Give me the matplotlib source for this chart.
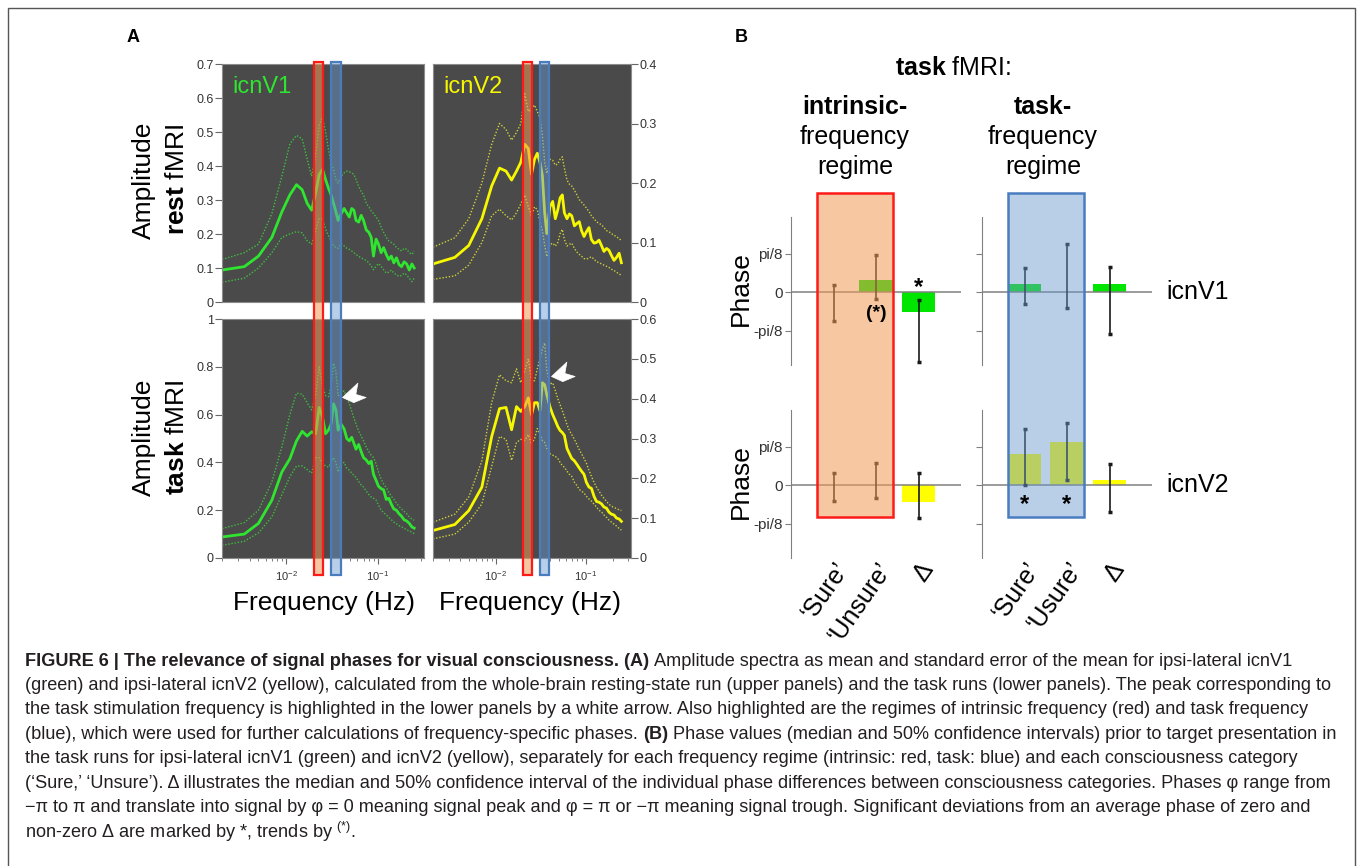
import numpy as np
import matplotlib
matplotlib.use('Agg')
import matplotlib.pyplot as plt
from matplotlib import transforms, colors
from matplotlib.patches import Rectangle
from matplotlib.path import Path
from matplotlib.ticker import FuncFormatter

plt.rcParams['font.family'] = ['Liberation Sans', 'DejaVu Sans']
plt.rcParams['mathtext.fontset'] = 'custom'
plt.rcParams['mathtext.rm'] = 'Liberation Sans'
plt.rcParams['mathtext.bf'] = 'Liberation Sans:bold'
plt.rcParams['mathtext.it'] = 'Liberation Sans:italic'

W, H = 1358, 866

# ---- panel A: amplitude spectra (mean, mean+SE, mean-SE) ----
freq = [0.002, 0.0035, 0.005, 0.007, 0.009, 0.011, 0.013, 0.015, 0.017, 0.019,
        0.021, 0.023, 0.025, 0.027, 0.029, 0.031, 0.033, 0.035, 0.037, 0.040,
        0.043, 0.046, 0.049, 0.052, 0.055, 0.058, 0.062, 0.066, 0.070, 0.075,
        0.080, 0.085, 0.090, 0.096, 0.102, 0.109, 0.116, 0.124, 0.132, 0.141,
        0.150, 0.160, 0.171, 0.182, 0.194, 0.207, 0.221, 0.236, 0.250]

rest_v1_mean = [0.094, 0.104, 0.135, 0.19, 0.265, 0.315, 0.345, 0.33, 0.29, 0.27,
                0.32, 0.375, 0.39, 0.36, 0.335, 0.315, 0.29, 0.265, 0.24, 0.26,
                0.275, 0.262, 0.25, 0.275, 0.27, 0.24, 0.235, 0.255, 0.24, 0.212,
                0.205, 0.19, 0.135, 0.185, 0.17, 0.145, 0.16, 0.14, 0.125, 0.135,
                0.115, 0.13, 0.11, 0.104, 0.118, 0.112, 0.094, 0.112, 0.1]
rest_v1_hi = [0.125, 0.145, 0.17, 0.26, 0.37, 0.465, 0.49, 0.48, 0.42, 0.37,
              0.43, 0.52, 0.545, 0.50, 0.45, 0.41, 0.39, 0.36, 0.35, 0.37,
              0.38, 0.385, 0.383, 0.38, 0.375, 0.36, 0.34, 0.325, 0.315, 0.29,
              0.28, 0.268, 0.26, 0.25, 0.24, 0.22, 0.205, 0.19, 0.18, 0.175,
              0.17, 0.16, 0.155, 0.15, 0.158, 0.155, 0.145, 0.14, 0.15]
rest_v1_lo = [0.058, 0.07, 0.1, 0.145, 0.19, 0.2, 0.207, 0.203, 0.18, 0.17,
              0.21, 0.245, 0.245, 0.215, 0.195, 0.18, 0.165, 0.16, 0.158, 0.172,
              0.165, 0.158, 0.155, 0.15, 0.145, 0.14, 0.134, 0.13, 0.126, 0.122,
              0.115, 0.106, 0.095, 0.105, 0.113, 0.105, 0.095, 0.085, 0.088, 0.094,
              0.085, 0.08, 0.075, 0.078, 0.085, 0.08, 0.07, 0.06, 0.07]

rest_v2_mean = [0.064, 0.075, 0.095, 0.14, 0.195, 0.225, 0.22, 0.205, 0.22, 0.235,
                0.265, 0.258, 0.215, 0.24, 0.25, 0.235, 0.212, 0.15, 0.115, 0.16,
                0.169, 0.14, 0.155, 0.175, 0.18, 0.15, 0.14, 0.148, 0.145, 0.128,
                0.132, 0.135, 0.12, 0.11, 0.118, 0.125, 0.105, 0.099, 0.1, 0.104,
                0.095, 0.085, 0.09, 0.087, 0.078, 0.07, 0.075, 0.082, 0.066]
rest_v2_hi = [0.092, 0.108, 0.14, 0.2, 0.265, 0.30, 0.29, 0.272, 0.285, 0.30,
              0.35, 0.32, 0.325, 0.331, 0.32, 0.31, 0.28, 0.235, 0.216, 0.24,
              0.238, 0.23, 0.232, 0.24, 0.244, 0.225, 0.205, 0.198, 0.195, 0.188,
              0.18, 0.172, 0.168, 0.163, 0.158, 0.152, 0.145, 0.14, 0.135, 0.132,
              0.13, 0.125, 0.12, 0.118, 0.115, 0.112, 0.11, 0.106, 0.104]
rest_v2_lo = [0.038, 0.044, 0.062, 0.1, 0.145, 0.156, 0.145, 0.138, 0.15, 0.165,
              0.18, 0.16, 0.145, 0.16, 0.155, 0.135, 0.12, 0.095, 0.076, 0.096,
              0.099, 0.094, 0.1, 0.115, 0.122, 0.105, 0.094, 0.097, 0.099, 0.09,
              0.084, 0.08, 0.077, 0.073, 0.072, 0.074, 0.076, 0.072, 0.068, 0.066,
              0.064, 0.062, 0.06, 0.058, 0.055, 0.053, 0.05, 0.047, 0.045]

task_v1_mean = [0.088, 0.1, 0.145, 0.242, 0.36, 0.415, 0.49, 0.53, 0.51, 0.528,
                0.52, 0.63, 0.59, 0.52, 0.535, 0.56, 0.645, 0.62, 0.535, 0.56,
                0.54, 0.5, 0.49, 0.505, 0.48, 0.455, 0.475, 0.445, 0.42, 0.41,
                0.395, 0.405, 0.35, 0.325, 0.3, 0.29, 0.285, 0.245, 0.25, 0.225,
                0.205, 0.2, 0.185, 0.175, 0.16, 0.155, 0.145, 0.13, 0.125]
task_v1_hi = [0.123, 0.148, 0.2, 0.318, 0.465, 0.6, 0.69, 0.685, 0.65, 0.62,
              0.68, 0.80, 0.72, 0.68, 0.675, 0.72, 0.815, 0.78, 0.68, 0.69,
              0.7, 0.67, 0.645, 0.615, 0.585, 0.56, 0.53, 0.51, 0.49, 0.465,
              0.445, 0.43, 0.42, 0.395, 0.36, 0.33, 0.31, 0.295, 0.275, 0.258,
              0.245, 0.23, 0.215, 0.205, 0.195, 0.185, 0.172, 0.163, 0.158]
task_v1_lo = [0.053, 0.07, 0.105, 0.172, 0.265, 0.34, 0.385, 0.385, 0.37, 0.355,
              0.42, 0.42, 0.395, 0.385, 0.38, 0.4, 0.42, 0.4, 0.36, 0.395,
              0.4, 0.375, 0.367, 0.355, 0.345, 0.338, 0.32, 0.305, 0.297, 0.28,
              0.265, 0.255, 0.25, 0.242, 0.222, 0.2, 0.19, 0.18, 0.17, 0.16,
              0.15, 0.143, 0.135, 0.13, 0.125, 0.118, 0.113, 0.108, 0.102]

task_v2_mean = [0.069, 0.084, 0.119, 0.178, 0.305, 0.375, 0.378, 0.322, 0.38, 0.368,
                0.38, 0.402, 0.36, 0.39, 0.39, 0.37, 0.44, 0.435, 0.41, 0.38,
                0.36, 0.345, 0.33, 0.32, 0.315, 0.308, 0.275, 0.262, 0.25, 0.244,
                0.235, 0.226, 0.218, 0.21, 0.19, 0.178, 0.175, 0.155, 0.142, 0.14,
                0.136, 0.128, 0.125, 0.115, 0.11, 0.108, 0.1, 0.098, 0.092]
task_v2_hi = [0.09, 0.11, 0.153, 0.244, 0.39, 0.46, 0.445, 0.44, 0.475, 0.44,
              0.47, 0.5, 0.445, 0.445, 0.475, 0.5, 0.525, 0.54, 0.47, 0.436,
              0.44, 0.42, 0.4, 0.385, 0.37, 0.355, 0.335, 0.32, 0.31, 0.298,
              0.285, 0.272, 0.262, 0.25, 0.238, 0.22, 0.205, 0.19, 0.178, 0.168,
              0.158, 0.15, 0.142, 0.135, 0.13, 0.127, 0.124, 0.121, 0.119]
task_v2_lo = [0.048, 0.06, 0.09, 0.136, 0.23, 0.305, 0.298, 0.245, 0.29, 0.298,
              0.295, 0.31, 0.285, 0.3, 0.325, 0.31, 0.295, 0.29, 0.275, 0.262,
              0.258, 0.255, 0.25, 0.24, 0.232, 0.228, 0.218, 0.21, 0.205, 0.19,
              0.182, 0.172, 0.168, 0.163, 0.155, 0.148, 0.143, 0.135, 0.128, 0.12,
              0.116, 0.108, 0.102, 0.095, 0.09, 0.085, 0.08, 0.074, 0.07]

# frequency regimes (Hz)
intr_band = (0.0203, 0.0255)
task_band = (0.0312, 0.0395)
# task stimulation peak marked by the white arrow (freq, amplitude)
stim_arrow_v1 = (0.0406, 0.673)
stim_arrow_v2 = (0.0412, 0.457)

# ---- panel B: phases in units of pi/8 (median, 50% CI) ----
cond_intr = ['\u2018Sure\u2019', '\u2018Unsure\u2019', '\u0394']
cond_task = ['\u2018Sure\u2019', '\u2018Usure\u2019', '\u0394']

v1_intr_med = [0.0, 0.31, -0.50]
v1_intr_lo = [-0.74, -0.16, -1.79]
v1_intr_hi = [0.18, 0.97, -0.20]
v1_task_med = [0.22, 0.0, 0.22]
v1_task_lo = [-0.30, -0.41, -1.07]
v1_task_hi = [0.62, 1.26, 0.66]
v2_intr_med = [0.0, 0.0, -0.43]
v2_intr_lo = [-0.40, -0.32, -0.85]
v2_intr_hi = [0.33, 0.58, 0.33]
v2_task_med = [0.82, 1.11, 0.13]
v2_task_lo = [0.0, 0.14, -0.68]
v2_task_hi = [1.45, 1.61, 0.56]

green = '#2fe52f'
green_dim = '#3fbf3f'
yellow = '#f7f700'
yellow_dim = '#cfcf3a'
orange_fill = colors.to_rgba('#f09a55', 0.55)
blue_fill = colors.to_rgba('#6a9ad0', 0.47)

fig = plt.figure(figsize=(W / 100, H / 100), dpi=100)


def rect(x0, y0, x1, y1):
    # pixel box measured from the top-left corner -> figure fraction
    return [x0 / W, 1 - y1 / H, (x1 - x0) / W, (y1 - y0) / H]


def fy(y):
    return 1 - y / H


def fx(x):
    return x / W


# outer frame
fig.add_artist(Rectangle((fx(8), -0.01), fx(1355) - fx(8), fy(8) + 0.01,
                         transform=fig.transFigure, fill=False,
                         edgecolor='#555555', lw=1))

# ---------------- panel A ----------------
panels = [
    (rect(222, 64, 424, 302), rest_v1_mean, rest_v1_hi, rest_v1_lo, green, green_dim, 0.7, 0.1, 'left', 'icnV1', None),
    (rect(433, 64, 631, 302), rest_v2_mean, rest_v2_hi, rest_v2_lo, yellow, yellow_dim, 0.4, 0.1, 'right', 'icnV2', None),
    (rect(222, 319, 424, 558), task_v1_mean, task_v1_hi, task_v1_lo, green, green_dim, 1.0, 0.2, 'left', None, stim_arrow_v1),
    (rect(433, 319, 631, 558), task_v2_mean, task_v2_hi, task_v2_lo, yellow, yellow_dim, 0.6, 0.1, 'right', None, stim_arrow_v2),
]

# white chevron marker, tip at the origin
chevron = Path([(0, 0), (15, 14), (13, 3), (23, 0), (11, -5), (0, 0)],
               [Path.MOVETO, Path.LINETO, Path.LINETO, Path.LINETO, Path.LINETO, Path.CLOSEPOLY])

axA = []
for box, m, hi, lo, c, cd, ymax, step, side, name, arrow in panels:
    ax = fig.add_axes(box)
    ax.set_facecolor('#4a4a4a')
    ax.set_xscale('log')
    ax.plot(freq, hi, color=cd, lw=1.0, ls=(0, (1, 1.3)))
    ax.plot(freq, lo, color=cd, lw=1.0, ls=(0, (1, 1.3)))
    ax.plot(freq, m, color=c, lw=2.0)
    ax.set_xlim(0.002, 0.32)
    ax.set_ylim(0, ymax)
    ax.set_yticks(np.arange(0, ymax + 1e-9, step))
    ax.yaxis.set_major_formatter(FuncFormatter(lambda v, p: f'{v:g}'))
    if side == 'right':
        ax.yaxis.tick_right()
    ax.tick_params(axis='y', direction='out', length=5, color='#666666',
                   labelsize=9, labelcolor='#333333', pad=1)
    if arrow is None:
        ax.tick_params(axis='x', which='both', bottom=False, labelbottom=False)
    else:
        ax.tick_params(axis='x', which='major', length=4, color='#666666',
                       labelsize=8, labelcolor='#333333', pad=4)
        ax.tick_params(axis='x', which='minor', length=2, color='#666666')
        ax.plot([arrow[0]], [arrow[1]], marker=chevron, markersize=34,
                color='white', mec='white', mew=0.5, ls='none')
    for sp in ax.spines.values():
        sp.set_color('#8c8c8c')
        sp.set_linewidth(0.8)
    if name:
        ax.text(0.05, 0.905, name, transform=ax.transAxes, color=c,
                fontsize=17, ha='left', va='center')
    axA.append(ax)

# frequency regime bands spanning both rows of each column
for ax_b in (axA[2], axA[3]):
    tr = transforms.blended_transform_factory(ax_b.transData, fig.transFigure)
    for (f0, f1), fc, ec in [(intr_band, orange_fill, '#ff1a1a'),
                             (task_band, blue_fill, '#4a7cc0')]:
        fig.add_artist(Rectangle((f0, fy(575)), f1 - f0, fy(62) - fy(575),
                                 transform=tr, facecolor=fc, edgecolor=ec,
                                 lw=1.6, zorder=1))

for yc, lab in [(180, r'$\mathbf{rest}$ fMRI'), (437, r'$\mathbf{task}$ fMRI')]:
    fig.text(fx(144), fy(yc), 'Amplitude', rotation=90, ha='center', va='center', fontsize=19)
    fig.text(fx(177), fy(yc), lab, rotation=90, ha='center', va='center', fontsize=19)
for xc in (324, 530):
    fig.text(fx(xc), fy(603), 'Frequency (Hz)', ha='center', va='center', fontsize=19)

fig.text(fx(133), fy(38), 'A', ha='center', va='center', fontsize=13, fontweight='bold')
fig.text(fx(741), fy(38), 'B', ha='center', va='center', fontsize=13, fontweight='bold')

# ---------------- panel B ----------------
b_cols = [(791, 961), (982, 1152)]
b_rows = [(217, 365), (410, 558)]
b_data = [
    [(v1_intr_med, v1_intr_lo, v1_intr_hi), (v1_task_med, v1_task_lo, v1_task_hi)],
    [(v2_intr_med, v2_intr_lo, v2_intr_hi), (v2_task_med, v2_task_lo, v2_task_hi)],
]
bar_colors = ['#00e600', '#ffff00']
cond_labels = [cond_intr, cond_task]
row_names = ['icnV1', 'icnV2']

axB = {}
for r, (y0, y1) in enumerate(b_rows):
    for c, (x0, x1) in enumerate(b_cols):
        ax = fig.add_axes(rect(x0, y0, x1, y1))
        ax.patch.set_alpha(0)
        med, lo, hi = b_data[r][c]
        pos = np.arange(1, len(med) + 1)
        ax.bar(pos, med, width=0.78, color=bar_colors[r], zorder=2)
        ax.errorbar(pos, med, yerr=[np.subtract(med, lo), np.subtract(hi, med)],
                    fmt='none', ecolor='#1a1a1a', elinewidth=1.2, capsize=1.2,
                    capthick=2.5, zorder=4)
        ax.axhline(0, color='#808080', lw=1.1, zorder=3)
        ax.set_xlim(0, 4)
        ax.set_ylim(-1.88, 1.95)
        for s in ('top', 'right', 'bottom'):
            ax.spines[s].set_visible(False)
        ax.spines['left'].set_color('#808080')
        ax.set_yticks([-1, 0, 1])
        ax.set_yticklabels(['-pi/8', '0', 'pi/8'] if c == 0 else [])
        ax.tick_params(axis='y', length=4, color='#808080', labelsize=11,
                       labelcolor='#333333', pad=2)
        if r == 1:
            ax.set_xticks(pos)
            ax.set_xticklabels(cond_labels[c], rotation=55, ha='right', va='top',
                               rotation_mode='anchor', fontsize=18)
            ax.tick_params(axis='x', length=0, pad=0)
        else:
            ax.set_xticks([])
        if c == 1:
            ax.text(4.33, 0, row_names[r], ha='left', va='center', fontsize=18,
                    clip_on=False)
        axB[r, c] = ax
    fig.text(fx(741), fy((y0 + y1) / 2 - 2), 'Phase', rotation=90, ha='center',
             va='center', fontsize=19)

for c, fc, ec in [(0, orange_fill, '#ff1a1a'), (1, blue_fill, '#4a7cc0')]:
    tr = transforms.blended_transform_factory(axB[0, c].transData, fig.transFigure)
    fig.add_artist(Rectangle((0.6, fy(517)), 1.8, fy(193) - fy(517), transform=tr,
                             facecolor=fc, edgecolor=ec, lw=1.8, zorder=1))

# significance marks
fig.text(3, 0.12, '*', transform=axB[0, 0].transData, ha='center', va='center',
         fontsize=17, fontweight='bold')
fig.text(2, -0.56, '(*)', transform=axB[0, 0].transData, ha='center', va='center',
         fontsize=14, fontweight='bold')
for xp in (1, 2):
    fig.text(xp, -0.5, '*', transform=axB[1, 1].transData, ha='center', va='center',
             fontsize=17, fontweight='bold')

fig.text(fx(953), fy(68), r'$\mathbf{task}$ fMRI:', ha='center', va='center', fontsize=18)
for xc, head in [(855, 'intrinsic-'), (1043, 'task-')]:
    fig.text(fx(xc), fy(107), head, ha='center', va='center', fontsize=18, fontweight='bold')
    fig.text(fx(xc), fy(137), 'frequency', ha='center', va='center', fontsize=18)
    fig.text(fx(xc), fy(167), 'regime', ha='center', va='center', fontsize=18)

# ---------------- caption ----------------
caption = [
    [('FIGURE 6 | The relevance of signal phases for visual consciousness. (A)', True),
     ('Amplitude spectra as mean and standard error of the mean for ipsi-lateral icnV1', False)],
    [('(green) and ipsi-lateral icnV2 (yellow), calculated from the whole-brain resting-state run '
      '(upper panels) and the task runs (lower panels). The peak corresponding to', False)],
    [('the task stimulation frequency is highlighted in the lower panels by a white arrow. '
      'Also highlighted are the regimes of intrinsic frequency (red) and task frequency', False)],
    [('(blue), which were used for further calculations of frequency-specific phases.', False),
     ('(B)', True),
     ('Phase values (median and 50% confidence intervals) prior to target presentation in', False)],
    [('the task runs for ipsi-lateral icnV1 (green) and icnV2 (yellow), separately for each '
      'frequency regime (intrinsic: red, task: blue) and each consciousness category', False)],
    [('(\u2018Sure,\u2019 \u2018Unsure\u2019). \u0394 illustrates the median and 50% confidence '
      'interval of the individual phase differences between consciousness categories. '
      'Phases \u03c6 range from', False)],
    [('\u2212\u03c0 to \u03c0 and translate into signal by \u03c6 = 0 meaning signal peak and '
      '\u03c6 = \u03c0 or \u2212\u03c0 meaning signal trough. Significant deviations from an '
      'average phase of zero and', False)],
    [('non-zero \u0394 are marked by *, trends by ${}^{(*)}$.', False)],
]

renderer = fig.canvas.get_renderer()


def text_width(s, size, weight='normal'):
    t = fig.text(0, 0, s, fontsize=size, fontweight=weight)
    w = t.get_window_extent(renderer).width
    t.remove()
    return w


cap_size = 10 * 1310 / text_width(caption[1][0][0], 10)
space_w = text_width('a a', cap_size) - text_width('aa', cap_size)
cap_color = '#231f20'
for i, line in enumerate(caption):
    x = 25
    y = 661 + i * 24.4
    for s, bold in line:
        t = fig.text(fx(x), fy(y), s, fontsize=cap_size, color=cap_color,
                     fontweight='bold' if bold else 'normal', ha='left', va='center')
        x += t.get_window_extent(renderer).width + space_w

fig.savefig('out.png', dpi=100)
